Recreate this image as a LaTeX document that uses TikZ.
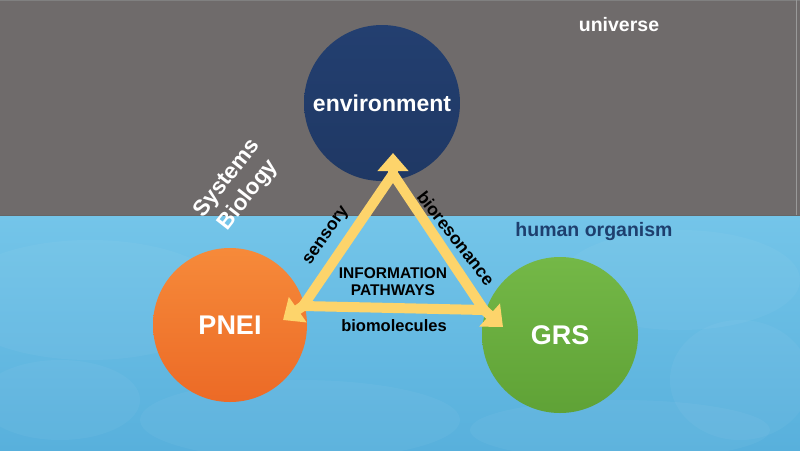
\documentclass[tikz,border=0pt]{standalone}
\usepackage{fontspec}
\setmainfont{Liberation Sans}
\usetikzlibrary{arrows.meta}
\definecolor{greybg}{HTML}{6F6B6B}
\definecolor{bluetop}{HTML}{74C5E9}
\definecolor{bluebot}{HTML}{58B0DC}
\definecolor{navy}{HTML}{1F3864}
\definecolor{navylt}{HTML}{233F70}
\definecolor{orangetop}{HTML}{F68A3A}
\definecolor{orangebot}{HTML}{EC6A26}
\definecolor{greentop}{HTML}{74B847}
\definecolor{greenbot}{HTML}{5FA236}
\definecolor{pathyellow}{HTML}{FDD46B}
\definecolor{orgblue}{HTML}{1E3F6E}
\tikzset{
  ball/.style={circle, minimum size=156pt, inner sep=0pt, text=white, font=\bfseries},
  pathline/.style={draw=pathyellow, line width=10pt},
  pathtip/.style={pathyellow, line width=10pt, -{Triangle[width=30pt,length=18pt]}},
  lbl/.style={font=\bfseries\fontsize{17.5}{18}\selectfont, text=black, inner sep=0pt}
}
\begin{document}
\begin{tikzpicture}[x=1pt,y=-1pt]
\useasboundingbox (0,0) rectangle (800,450);
% backgrounds
\fill[greybg] (0,0) rectangle (800,215);
\shade[top color=bluetop, bottom color=bluebot] (0,215) rectangle (800,450);
\foreach \cx/\cy/\rx/\ry in {90/300/140/60, 680/280/120/50, 300/420/160/40, 620/430/150/30, 60/400/80/40, 740/380/70/60}
  \fill[white, opacity=0.04] (\cx,\cy) ellipse [x radius=\rx, y radius=\ry];
\draw[black!60, line width=1pt] (0,215) -- (800,215);
\draw[black!50, line width=0.8pt] (0,0.4) -- (800,0.4);
\draw[black!40, line width=0.6pt] (796,0) -- (796,215);

% circles
\node[ball, shade, top color=navylt, bottom color=navy, font=\bfseries\fontsize{23}{24}\selectfont] (env) at (382,103) {environment};
\node[ball, minimum size=154pt, shade, top color=orangetop, bottom color=orangebot, font=\bfseries\fontsize{27}{28}\selectfont] (pnei) at (230,325) {PNEI};
\node[ball, shade, top color=greentop, bottom color=greenbot, font=\bfseries\fontsize{27}{28}\selectfont] (grs) at (560,335) {GRS};

% information pathways triangle
\coordinate (A) at (393,174);
\coordinate (L) at (303,306);
\coordinate (R) at (484,310);
\coordinate (At) at (393,153);
\coordinate (Lt) at (283,320);
\coordinate (Rt) at (503,327);
\draw[pathline, line join=round] (A) -- (L) -- (R) -- cycle;
\draw[pathtip] (A) -- (At);
\draw[pathtip] (L) -- (Lt);
\draw[pathtip] (R) -- (Rt);

% labels
\node[font=\bfseries\fontsize{19.5}{20}\selectfont, text=white] (universe) at (619,25) {universe};
\node[font=\bfseries\fontsize{19.5}{20}\selectfont, text=orgblue] (human) at (594,231) {human organism};
\node[font=\bfseries\fontsize{22.5}{27}\selectfont, text=white, align=center, rotate=52] (sysbio) at (238,187) {Systems\\Biology};
\node[lbl, rotate=55] (sensory) at (327,236) {sensory};
\node[lbl, rotate=-52] (biores) at (456,238) {bioresonance};
\node[font=\bfseries\fontsize{15.5}{17}\selectfont, align=center, inner sep=0pt] (info) at (393,282) {INFORMATION\\PATHWAYS};
\node[font=\bfseries\fontsize{16.5}{18}\selectfont, inner sep=0pt] (biomol) at (394,326) {biomolecules};
\end{tikzpicture}
\end{document}
